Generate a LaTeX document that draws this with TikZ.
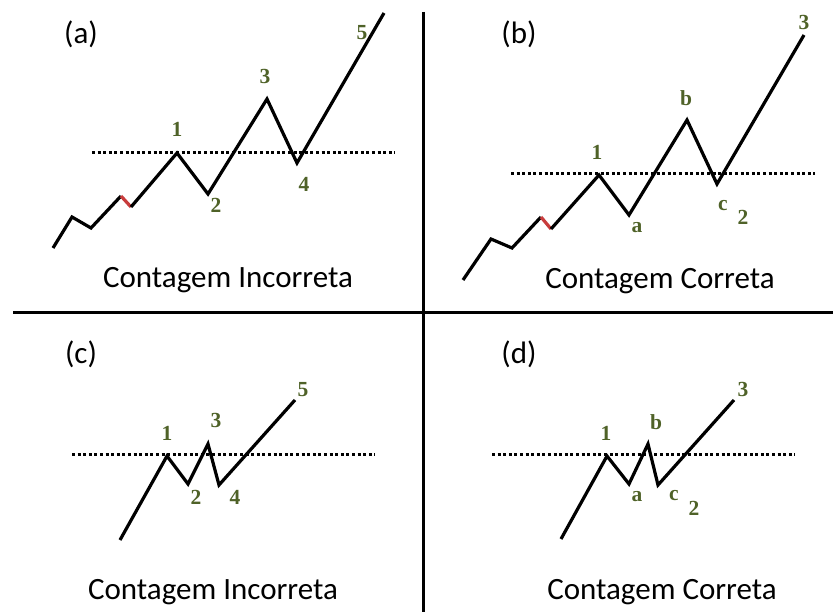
\documentclass[tikz,border=0pt]{standalone}
\usepackage{fontspec}
\setmainfont{Carlito}
\newfontfamily\lblfont{Liberation Serif}
\definecolor{olive}{HTML}{4F6228}
\begin{document}
\begin{tikzpicture}[x=1pt,y=-1pt,
  wave/.style={line width=3.2pt,line join=miter,black},
  redseg/.style={line width=3.2pt,draw={rgb,255:red,200;green,60;blue,60}},
  level/.style={line width=3pt,dash pattern=on 3pt off 2.6pt},
  divider/.style={line width=3pt},
  lbl/.style={font=\lblfont\bfseries\fontsize{21.5}{21.5}\selectfont,text=olive,inner sep=0pt},
  panel/.style={font=\fontsize{31}{31}\selectfont,inner sep=0pt},
  caption/.style={font=\fontsize{31}{31}\selectfont,inner sep=0pt}]
\useasboundingbox (0,0) rectangle (833,612);
% dividers
\coordinate (vt) at (423,12); \coordinate (vb) at (423,612);
\coordinate (hl) at (13,313); \coordinate (hr) at (833,313);
\draw[divider] (vt) -- (vb);
\draw[divider] (hl) -- (hr);

% ---------- (a)
\node[panel] (pa) at (81,34) {(a)};
\draw[level] (92,153) coordinate (la1) -- (395,153) coordinate (la2);
\coordinate (a0) at (53,248); \coordinate (a1) at (72,217); \coordinate (a2) at (91,228);
\coordinate (a3) at (121,196); \coordinate (a4) at (131,207); \coordinate (a5) at (177,153);
\coordinate (a6) at (208,194); \coordinate (a7) at (267,99); \coordinate (a8) at (297,163);
\coordinate (a9) at (384,13);
\draw[wave] (a0) -- (a1) -- (a2) -- (a3);
\draw[redseg] (a3) -- (a4);
\draw[wave] (a4) -- (a5) -- (a6) -- (a7) -- (a8) -- (a9);
\node[lbl] (an1) at (177,129) {1};
\node[lbl] (an2) at (216,205) {2};
\node[lbl] (an3) at (265,76) {3};
\node[lbl] (an4) at (304,184) {4};
\node[lbl] (an5) at (362,33) {5};
\node[caption] (ca) at (228,280) {Contagem Incorreta};

% ---------- (b)
\node[panel] (pb) at (519,34) {(b)};
\draw[level] (511,174) coordinate (lb1) -- (815,174) coordinate (lb2);
\coordinate (b0) at (463,280); \coordinate (b1) at (491,239); \coordinate (b2) at (512,248);
\coordinate (b3) at (541,217); \coordinate (b4) at (551,229); \coordinate (b5) at (599,175);
\coordinate (b6) at (629,215); \coordinate (b7) at (687,120); \coordinate (b8) at (717,184);
\coordinate (b9) at (804,35);
\draw[wave] (b0) -- (b1) -- (b2) -- (b3);
\draw[redseg] (b3) -- (b4);
\draw[wave] (b4) -- (b5) -- (b6) -- (b7) -- (b8) -- (b9);
\node[lbl] (bn1) at (597,152) {1};
\node[lbl] (bna) at (637,228) {a};
\node[lbl] (bnb) at (686,98) {b};
\node[lbl] (bnc) at (723,206) {c};
\node[lbl] (bn2) at (743,217) {2};
\node[lbl] (bn3) at (804,22) {3};
\node[caption] (cb) at (660,281) {Contagem Correta};

% ---------- (c)
\node[panel] (pc) at (81,354) {(c)};
\draw[level] (72,454) coordinate (lc1) -- (375,454) coordinate (lc2);
\coordinate (c0) at (120,540); \coordinate (c1) at (167,456); \coordinate (c2) at (188,484);
\coordinate (c3) at (208,444); \coordinate (c4) at (219,485); \coordinate (c5) at (295,400);
\draw[wave] (c0) -- (c1) -- (c2) -- (c3) -- (c4) -- (c5);
\node[lbl] (cn1) at (167,433) {1};
\node[lbl] (cn2) at (196,497) {2};
\node[lbl] (cn3) at (216,420) {3};
\node[lbl] (cn4) at (235,497) {4};
\node[lbl] (cn5) at (303,390) {5};
\node[caption] (cc) at (213,592) {Contagem Incorreta};

% ---------- (d)
\node[panel] (pd) at (519,354) {(d)};
\draw[level] (492,454) coordinate (ld1) -- (795,454) coordinate (ld2);
\coordinate (d0) at (561,539); \coordinate (d1) at (607,456); \coordinate (d2) at (629,484);
\coordinate (d3) at (648,444); \coordinate (d4) at (658,485); \coordinate (d5) at (734,400);
\draw[wave] (d0) -- (d1) -- (d2) -- (d3) -- (d4) -- (d5);
\node[lbl] (dn1) at (606,433) {1};
\node[lbl] (dna) at (637,497) {a};
\node[lbl] (dnb) at (656,422) {b};
\node[lbl] (dnc) at (674,496) {c};
\node[lbl] (dn2) at (694,508) {2};
\node[lbl] (dn3) at (743,389) {3};
\node[caption] (cd) at (662,592) {Contagem Correta};
\end{tikzpicture}
\end{document}
